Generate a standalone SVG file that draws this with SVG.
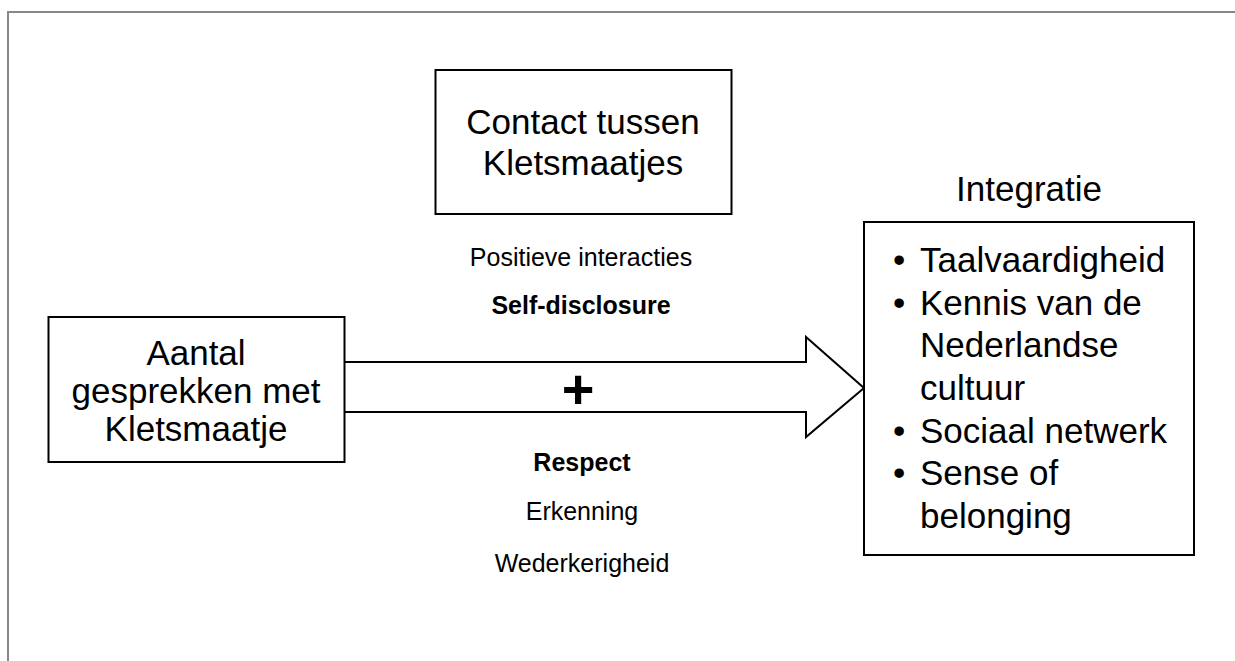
<svg xmlns="http://www.w3.org/2000/svg" width="1235" height="661" viewBox="0 0 1235 661">
  <style>
    .box { fill: #ffffff; stroke: #000000; stroke-width: 2; }
    .frame { fill: none; stroke: #888888; stroke-width: 2; }
    .big { font-family: "Liberation Sans", Arial, sans-serif; font-size: 35px; fill: #000000; }
    .mid { font-family: "Liberation Sans", Arial, sans-serif; font-size: 25px; fill: #000000; text-anchor: middle; }
    .bold { font-weight: bold; }
    .c { text-anchor: middle; }
    .arrow { fill: #ffffff; stroke: #000000; stroke-width: 2; stroke-linejoin: miter; }
  </style>
  <rect width="1235" height="661" fill="#ffffff"/>
  <path class="frame" d="M 8 680 L 8 12 L 1250 12"/>

  <g id="connectors">
    <polygon class="arrow" points="344,362 806,362 806,337 864,388 806,437 806,412 344,412"/>
    <text class="big bold c" x="578" y="408" style="font-size:56px">+</text>
  </g>

  <g id="node-aantal">
    <rect class="box" x="48.5" y="317" width="296" height="145"/>
    <text class="big c" x="196" y="365">Aantal</text>
    <text class="big c" x="196" y="403">gesprekken met</text>
    <text class="big c" x="196" y="441">Kletsmaatje</text>
  </g>

  <g id="node-contact">
    <rect class="box" x="435.5" y="70" width="296" height="144"/>
    <text class="big c" x="583" y="134">Contact tussen</text>
    <text class="big c" x="583" y="175">Kletsmaatjes</text>
  </g>

  <g id="labels-positive">
    <text class="mid" x="581" y="266">Positieve interacties</text>
    <text class="mid bold" x="581" y="314">Self-disclosure</text>
  </g>

  <g id="labels-respect">
    <text class="mid bold" x="582" y="471">Respect</text>
    <text class="mid" x="582" y="520">Erkenning</text>
    <text class="mid" x="582" y="572">Wederkerigheid</text>
  </g>

  <g id="node-integratie">
    <text class="big c" x="1029" y="201">Integratie</text>
    <rect class="box" x="864" y="222" width="330" height="333"/>
    <text class="big" x="893" y="272">•</text>
    <text class="big" x="920" y="272">Taalvaardigheid</text>
    <text class="big" x="893" y="315">•</text>
    <text class="big" x="920" y="315">Kennis van de</text>
    <text class="big" x="920" y="357">Nederlandse</text>
    <text class="big" x="920" y="400">cultuur</text>
    <text class="big" x="893" y="443">•</text>
    <text class="big" x="920" y="443">Sociaal netwerk</text>
    <text class="big" x="893" y="485">•</text>
    <text class="big" x="920" y="485">Sense of</text>
    <text class="big" x="920" y="528">belonging</text>
  </g>
</svg>
